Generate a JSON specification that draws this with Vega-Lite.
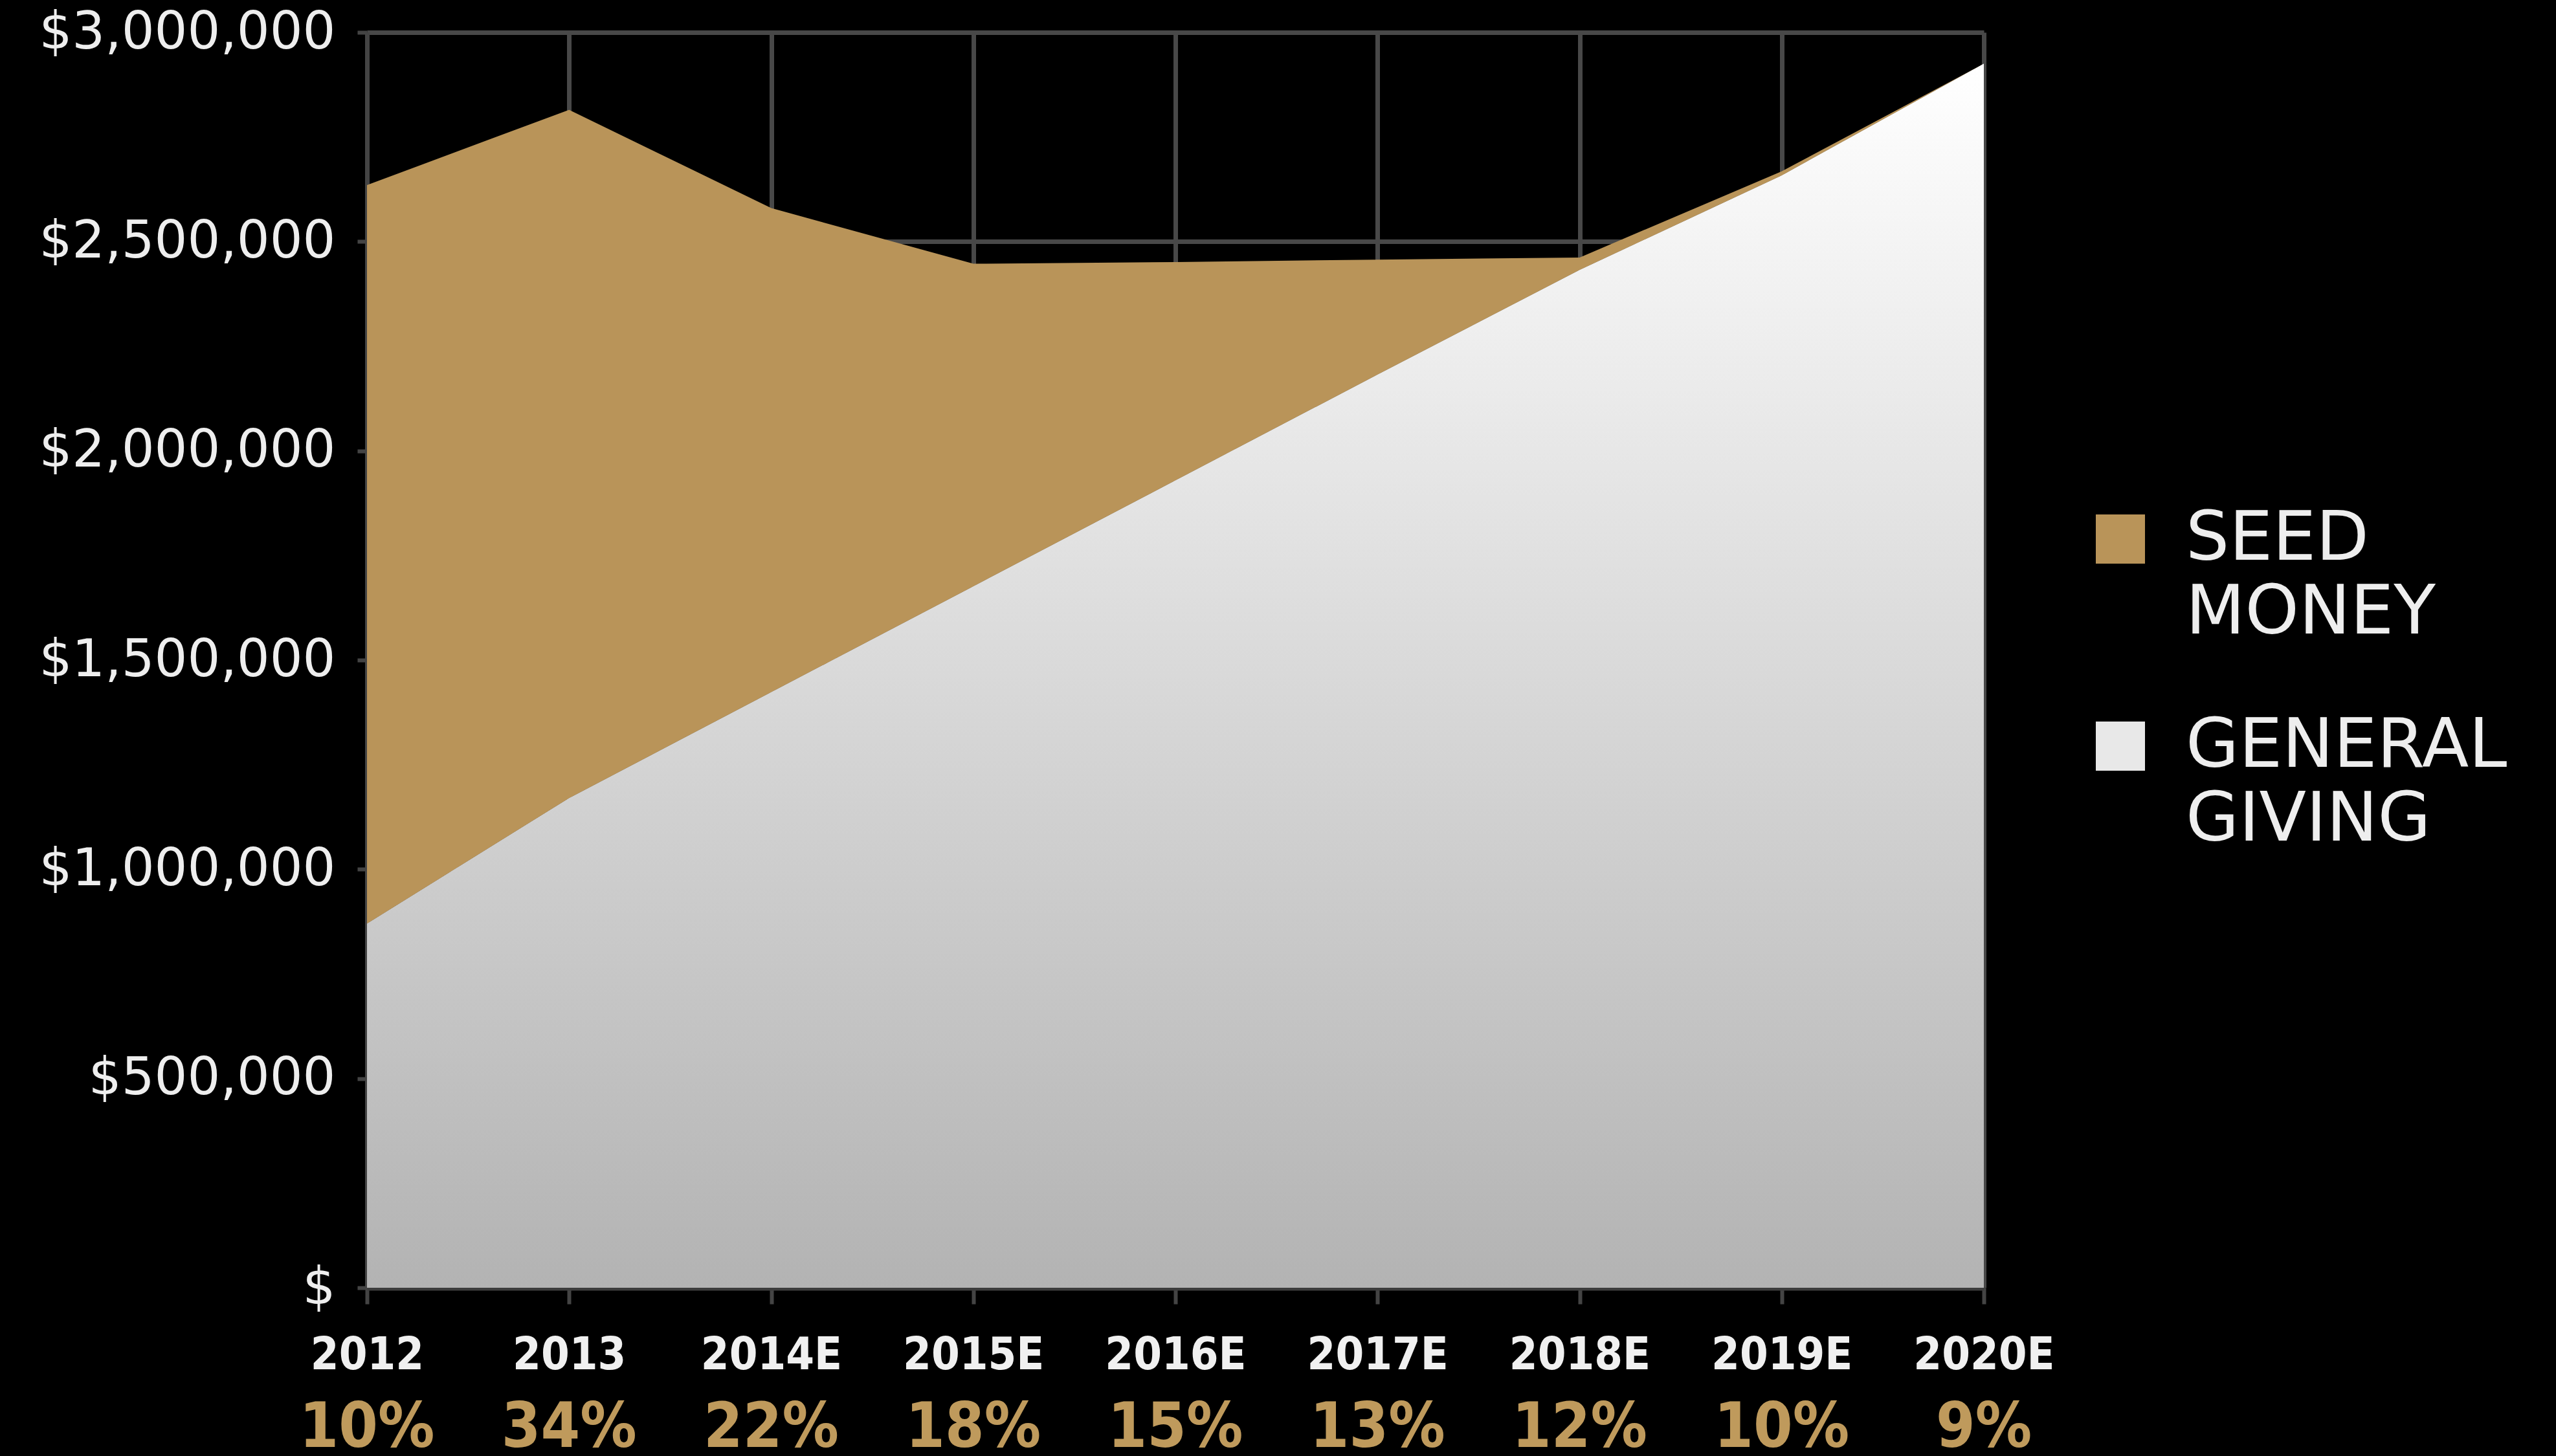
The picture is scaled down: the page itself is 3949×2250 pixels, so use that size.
{
  "$schema": "https://vega.github.io/schema/vega-lite/v6.json",
  "width": 2498,
  "height": 1940,
  "autosize": {"type": "none"},
  "padding": {"left": 567, "top": 50, "right": 884, "bottom": 260},
  "background": "#000000",
  "config": {"view": {"stroke": null}, "style": {"guide-label": {"lineHeight": 114}}},
  "datasets": {
    "amounts": [
      {"year": "2012", "series": "general", "amount": 870000},
      {"year": "2012", "series": "seed", "amount": 1765000},
      {"year": "2013", "series": "general", "amount": 1170000},
      {"year": "2013", "series": "seed", "amount": 1645000},
      {"year": "2014E", "series": "general", "amount": 1423000},
      {"year": "2014E", "series": "seed", "amount": 1157000},
      {"year": "2015E", "series": "general", "amount": 1676000},
      {"year": "2015E", "series": "seed", "amount": 771000},
      {"year": "2016E", "series": "general", "amount": 1929000},
      {"year": "2016E", "series": "seed", "amount": 522000},
      {"year": "2017E", "series": "general", "amount": 2182000},
      {"year": "2017E", "series": "seed", "amount": 275000},
      {"year": "2018E", "series": "general", "amount": 2432000},
      {"year": "2018E", "series": "seed", "amount": 30000},
      {"year": "2019E", "series": "general", "amount": 2658000},
      {"year": "2019E", "series": "seed", "amount": 10000},
      {"year": "2020E", "series": "general", "amount": 2925000},
      {"year": "2020E", "series": "seed", "amount": 0}
    ],
    "growth": [
      {"year": "2012", "pct": "10%"},
      {"year": "2013", "pct": "34%"},
      {"year": "2014E", "pct": "22%"},
      {"year": "2015E", "pct": "18%"},
      {"year": "2016E", "pct": "15%"},
      {"year": "2017E", "pct": "13%"},
      {"year": "2018E", "pct": "12%"},
      {"year": "2019E", "pct": "10%"},
      {"year": "2020E", "pct": "9%"}
    ]
  },
  "layer": [
    {
      "data": {"name": "amounts"},
      "mark": {"type": "area", "opacity": 1, "strokeWidth": 0},
      "encoding": {
        "x": {
          "field": "year", "type": "ordinal",
          "scale": {"type": "point", "padding": 0},
          "axis": {
            "title": null, "labelAngle": 0, "labelLimit": 2000,
            "labelFont": "DejaVu Sans Condensed, Liberation Sans Narrow, sans-serif",
            "labelFontWeight": "bold", "labelFontSize": 70, "labelColor": "#F0F0F0",
            "labelPadding": 45, "tickSize": 25, "tickWidth": 6, "tickColor": "#444444",
            "domainColor": "#3C3C3C", "domainWidth": 8,
            "grid": true, "gridColor": "#484848", "gridWidth": 7
          }
        },
        "y": {
          "field": "amount", "type": "quantitative", "stack": "zero",
          "scale": {"domain": [0, 3000000], "nice": false},
          "axis": {
            "title": null, "labelLimit": 2000,
            "values": [0, 500000, 1000000, 1500000, 2000000, 2500000, 3000000],
            "labelExpr": "datum.value == 0 ? '$' : '$' + format(datum.value, ',')",
            "labelFont": "DejaVu Sans", "labelFontSize": 80, "labelColor": "#EEEEEE",
            "labelPadding": 34, "tickSize": 15, "tickWidth": 6, "tickColor": "#444444",
            "domainColor": "#444444", "domainWidth": 7,
            "grid": true, "gridColor": "#484848", "gridWidth": 7
          }
        },
        "color": {
          "field": "series", "type": "nominal",
          "scale": {"domain": ["seed", "general"], "range": ["#B99459", "#E8E8E8"]},
          "legend": {
            "orient": "none", "legendX": 2656, "legendY": 730,
            "title": null, "symbolType": "square", "symbolSize": 5776,
            "symbolStrokeWidth": 0, "symbolOpacity": 1,
            "labelExpr": "datum.value == 'seed' ? ['SEED', 'MONEY'] : ['GENERAL', 'GIVING']",
            "labelFont": "DejaVu Sans", "labelFontSize": 106, "labelColor": "#EEEEEE",
            "labelOffset": 48, "labelLimit": 2000, "rowPadding": 100
          }
        },
        "order": {"field": "series", "sort": "ascending"}
      }
    },
    {
      "data": {"name": "amounts"},
      "transform": [{"filter": "datum.series == 'general'"}],
      "mark": {
        "type": "area", "opacity": 1, "strokeWidth": 0,
        "fill": {
          "gradient": "linear", "x1": 0, "y1": 0, "x2": 0, "y2": 1,
          "stops": [{"offset": 0, "color": "#FFFFFF"}, {"offset": 1, "color": "#B3B3B3"}]
        }
      },
      "encoding": {
        "x": {"field": "year", "type": "ordinal"},
        "y": {"field": "amount", "type": "quantitative"}
      }
    },
    {
      "data": {"name": "growth"},
      "mark": {
        "type": "text", "font": "DejaVu Sans Condensed, Liberation Sans Narrow, sans-serif",
        "fontWeight": "bold", "fontSize": 97, "color": "#BF9A5C",
        "align": "center", "baseline": "middle"
      },
      "encoding": {
        "x": {"field": "year", "type": "ordinal"},
        "y": {"datum": -336000, "type": "quantitative"},
        "text": {"field": "pct"}
      }
    }
  ]
}
